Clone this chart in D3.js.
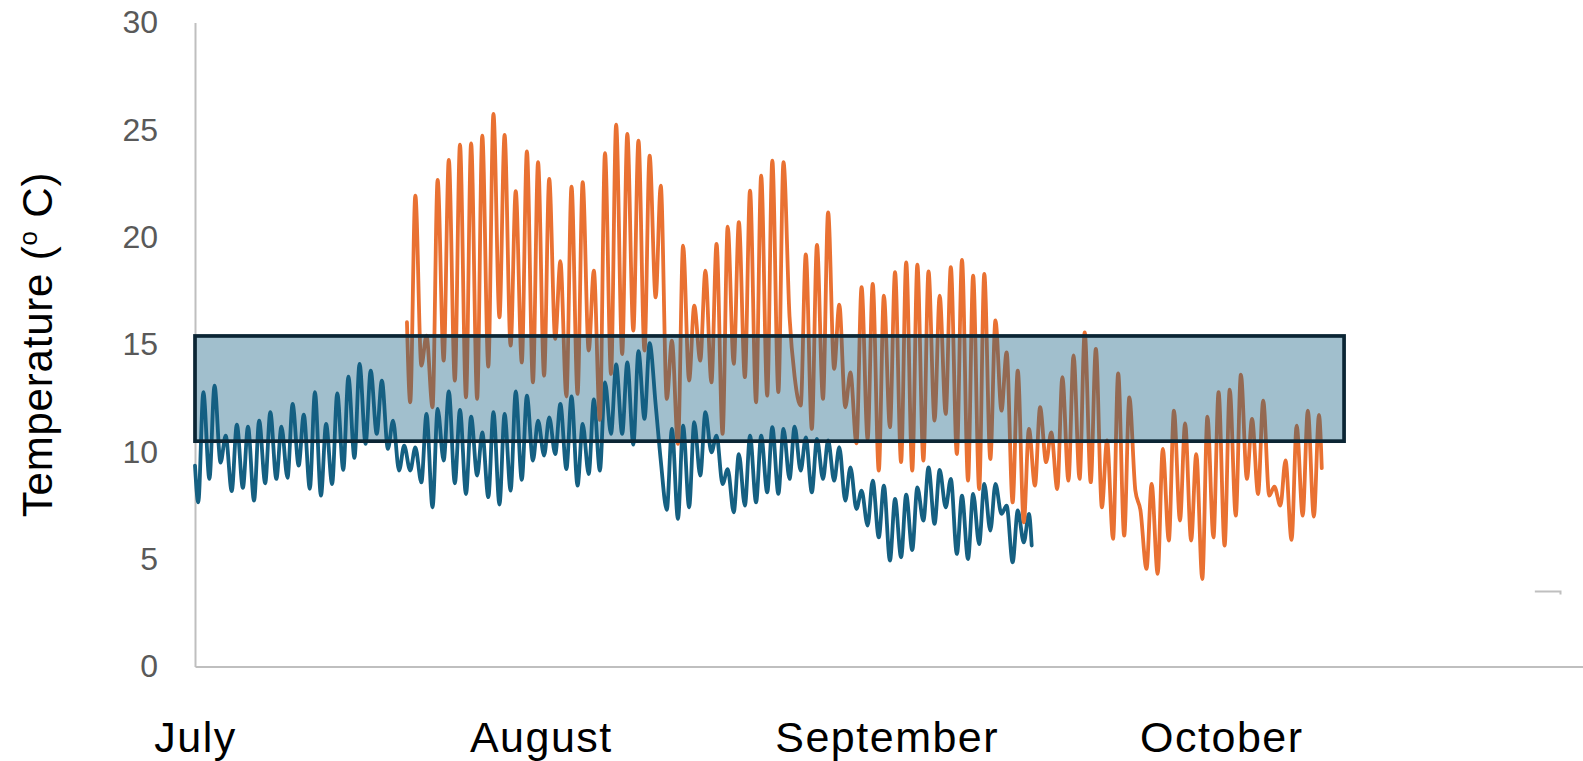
<!DOCTYPE html>
<html>
<head>
<meta charset="utf-8">
<script src="https://cdn.jsdelivr.net/npm/d3@7/dist/d3.min.js"></script>
<style>
  html, body { margin: 0; padding: 0; background: #ffffff; }
  svg { display: block; font-family: "Liberation Sans", Arial, sans-serif; }
</style>
</head>
<body>
<svg id="chart" width="1583" height="761"></svg>
<script>
// ---- Data -------------------------------------------------------------
// Day 0 is 1 July. Each logger has one daily minimum and one daily maximum.
const seasonStart = new Date(2021, 6, 1);

// Upstream logger (blue), days 0..74
const blueFirstDay = 0;
const blueStartValue = 9.36;
const blueEndValue = 5.64;
const blueLow = [
  7.65, 8.74, 9.50, 8.17, 8.32, 7.73, 8.54, 8.74, 8.79, 9.36,
  8.28, 7.96, 8.50, 9.16, 9.72, 10.37, 10.84, 10.14, 9.13, 9.13,
  8.58, 7.42, 9.60, 8.54, 8.04, 8.90, 7.89, 7.55, 8.20, 8.70,
  9.60, 9.83, 9.90, 9.20, 8.43, 8.97, 9.13, 10.84, 10.84, 10.34,
  11.54, 12.20, 7.30, 6.88, 7.42, 8.90, 9.98, 8.50, 7.19, 7.50,
  7.65, 8.12, 8.05, 8.74, 9.13, 8.12, 8.74, 8.66, 7.73, 7.34,
  6.57, 6.02, 4.94, 5.09, 5.43, 6.80, 6.65, 7.42, 5.25, 5.01,
  5.71, 6.33, 7.11, 4.86, 5.79
];
const blueHigh = [
  12.78, 13.09, 10.76, 11.27, 11.18, 11.46, 11.85, 11.18, 12.23, 11.74,
  12.78, 11.30, 12.73, 13.50, 14.10, 13.79, 13.32, 11.46, 10.29, 10.21,
  11.77, 12.00, 12.82, 11.96, 11.64, 10.91, 11.85, 11.77, 12.82, 12.62,
  11.46, 11.61, 12.23, 12.58, 11.30, 12.44, 13.24, 14.07, 14.17, 14.69,
  15.06, 9.60, 11.07, 11.22, 11.38, 11.85, 10.76, 9.20, 9.90, 10.76,
  10.76, 11.15, 11.07, 11.18, 10.68, 10.60, 10.53, 10.22, 9.28, 8.20,
  8.66, 8.43, 7.81, 8.01, 8.35, 9.28, 9.16, 8.74, 7.96, 8.04,
  8.51, 8.51, 7.50, 7.27, 7.11
];

// Downstream logger (orange), days 19..100
const orangeFirstDay = 19;
const orangeStartValue = 16.04;
const orangeEndValue = 9.24;
const orangeLow = [
  12.31, 14.02, 12.08, 14.25, 13.32, 12.54, 12.47, 13.97, 16.27, 14.95,
  14.17, 13.24, 13.55, 15.26, 12.58, 12.70, 14.72, 11.49, 13.63, 14.56,
  15.65, 14.72, 17.20, 12.47, 10.37, 13.32, 14.25, 13.24, 10.84, 14.10,
  13.48, 12.31, 12.62, 12.78, 16.30, 12.16, 11.07, 12.47, 13.87, 12.08,
  10.40, 10.60, 9.13, 11.15, 9.52, 9.13, 9.60, 11.46, 11.77, 9.90,
  8.66, 8.27, 9.67, 11.92, 7.65, 6.72, 8.43, 9.52, 8.27, 8.66,
  8.74, 8.59, 7.42, 5.95, 6.10, 8.20, 4.55, 4.32, 5.87, 6.80,
  5.87, 4.08, 6.02, 5.64, 7.03, 8.74, 8.04, 7.96, 7.50, 5.90,
  7.03, 6.99
];
const orangeHigh = [
  21.94, 15.42, 22.67, 23.60, 24.31, 24.37, 24.73, 25.74, 24.76, 22.14,
  24.00, 23.49, 22.71, 18.88, 22.36, 22.56, 18.44, 23.92, 25.24, 24.81,
  24.50, 23.80, 22.40, 15.18, 19.61, 16.81, 18.44, 19.69, 20.49, 20.70,
  22.17, 22.87, 23.57, 23.49, 13.50, 19.20, 19.64, 21.16, 16.86, 13.70,
  17.67, 17.82, 17.28, 18.37, 18.83, 18.72, 18.41, 17.28, 18.60, 18.94,
  18.21, 18.29, 16.12, 14.64, 13.79, 11.07, 12.08, 10.91, 13.48, 14.49,
  15.57, 14.80, 10.53, 13.66, 12.54, 7.27, 8.51, 10.14, 11.92, 11.33,
  9.90, 11.64, 12.78, 12.90, 13.60, 11.54, 12.39, 8.38, 9.60, 11.22,
  11.92, 11.72
];

// Target temperature range shown as a shaded band
const bandRange = [10.5, 15.4];
const bandDays = [0, 103];

// Axis ticks and labels
const yTicks = [0, 5, 10, 15, 20, 25, 30];
const monthStarts = [new Date(2021, 6, 1), new Date(2021, 7, 1), new Date(2021, 8, 1), new Date(2021, 9, 1)];
const monthLabels = ["July", "August", "September", "October"];

// ---- Helpers ----------------------------------------------------------
const DAY_MS = 864e5;
const LOW_PHASE = 7 / 24;   // morning minimum
const HIGH_PHASE = 18 / 24; // evening maximum
const atDay = d => new Date(seasonStart.getTime() + d * DAY_MS);

function buildSeries(firstDay, startValue, lows, highs, endValue) {
  const pts = [{ t: atDay(firstDay), v: startValue }];
  lows.forEach((lo, i) => {
    pts.push({ t: atDay(firstDay + i + LOW_PHASE), v: lo });
    pts.push({ t: atDay(firstDay + i + HIGH_PHASE), v: highs[i] });
  });
  pts.push({ t: atDay(firstDay + lows.length), v: endValue });
  return pts;
}

const blueSeries = buildSeries(blueFirstDay, blueStartValue, blueLow, blueHigh, blueEndValue);
const orangeSeries = buildSeries(orangeFirstDay, orangeStartValue, orangeLow, orangeHigh, orangeEndValue);

// ---- Layout -----------------------------------------------------------
const W = 1583, H = 761;
const margin = { top: 22.5, right: 0, bottom: 94.4, left: 195 };

const svg = d3.select("#chart");

const x = d3.scaleTime()
  .domain([seasonStart, new Date(2021, 10, 2, 10)])
  .range([margin.left, W - margin.right]);

const y = d3.scaleLinear()
  .domain([0, 30])
  .range([H - margin.bottom, margin.top]);

// ---- Axes -------------------------------------------------------------
const yAxis = svg.append("g")
  .attr("transform", `translate(${margin.left},0)`)
  .call(d3.axisLeft(y).tickValues(yTicks).tickSize(0).tickSizeOuter(0).tickPadding(37));
yAxis.select(".domain").attr("stroke", "#bfbfbf").attr("stroke-width", 2);
yAxis.selectAll("text")
  .attr("fill", "#595959")
  .style("font-size", "32px")
  .style("font-family", "'Liberation Sans', Arial, sans-serif");

const xAxis = svg.append("g")
  .attr("transform", `translate(0,${y(0)})`)
  .call(d3.axisBottom(x).tickValues(monthStarts).tickSize(0).tickSizeOuter(0)
    .tickFormat((d, i) => monthLabels[i]));
xAxis.select(".domain").attr("stroke", "#bfbfbf").attr("stroke-width", 2);
xAxis.selectAll("text")
  .attr("fill", "#000000")
  .attr("y", 85)
  .attr("dy", 0)
  .style("font-size", "43px")
  .style("letter-spacing", "1.5px")
  .style("font-family", "'Liberation Sans', Arial, sans-serif");

// Y-axis title with superscript degree "o"
const title = svg.append("text")
  .attr("transform", `translate(52,${(margin.top + H - margin.bottom) / 2}) rotate(-90)`)
  .attr("text-anchor", "middle")
  .attr("fill", "#000000")
  .style("font-size", "42px")
  .style("letter-spacing", "0.8px");
title.append("tspan").text("Temperature (");
title.append("tspan").attr("dy", -15).style("font-size", "26px").text("o");
title.append("tspan").attr("dy", 15).text(" C)");

// ---- Series -----------------------------------------------------------
const line = d3.line()
  .x(d => x(d.t))
  .y(d => y(d.v))
  .curve(d3.curveMonotoneX);

svg.append("path")
  .datum(blueSeries)
  .attr("fill", "none")
  .attr("stroke", "#156082")
  .attr("stroke-width", 3.8)
  .attr("stroke-linejoin", "round")
  .attr("stroke-linecap", "round")
  .attr("d", line);

svg.append("path")
  .datum(orangeSeries)
  .attr("fill", "none")
  .attr("stroke", "#E97132")
  .attr("stroke-width", 3.8)
  .attr("stroke-linejoin", "round")
  .attr("stroke-linecap", "round")
  .attr("d", line);

// ---- Target band (translucent, over the lines) ------------------------
svg.append("rect")
  .attr("x", x(atDay(bandDays[0])))
  .attr("y", y(bandRange[1]))
  .attr("width", x(atDay(bandDays[1])) - x(atDay(bandDays[0])))
  .attr("height", y(bandRange[0]) - y(bandRange[1]))
  .attr("fill", "#156082")
  .attr("fill-opacity", 0.4)
  .attr("stroke", "#0b2534")
  .attr("stroke-width", 3.7);

// Small leftover key stub at the lower right
const stubDays = [120.1, 122.4];
const stubValue = 3.5;
svg.append("path")
  .attr("d", `M${x(atDay(stubDays[0]))},${y(stubValue)}H${x(atDay(stubDays[1]))}v3`)
  .attr("fill", "none")
  .attr("stroke", "#bfbfbf")
  .attr("stroke-width", 2);
</script>
</body>
</html>
